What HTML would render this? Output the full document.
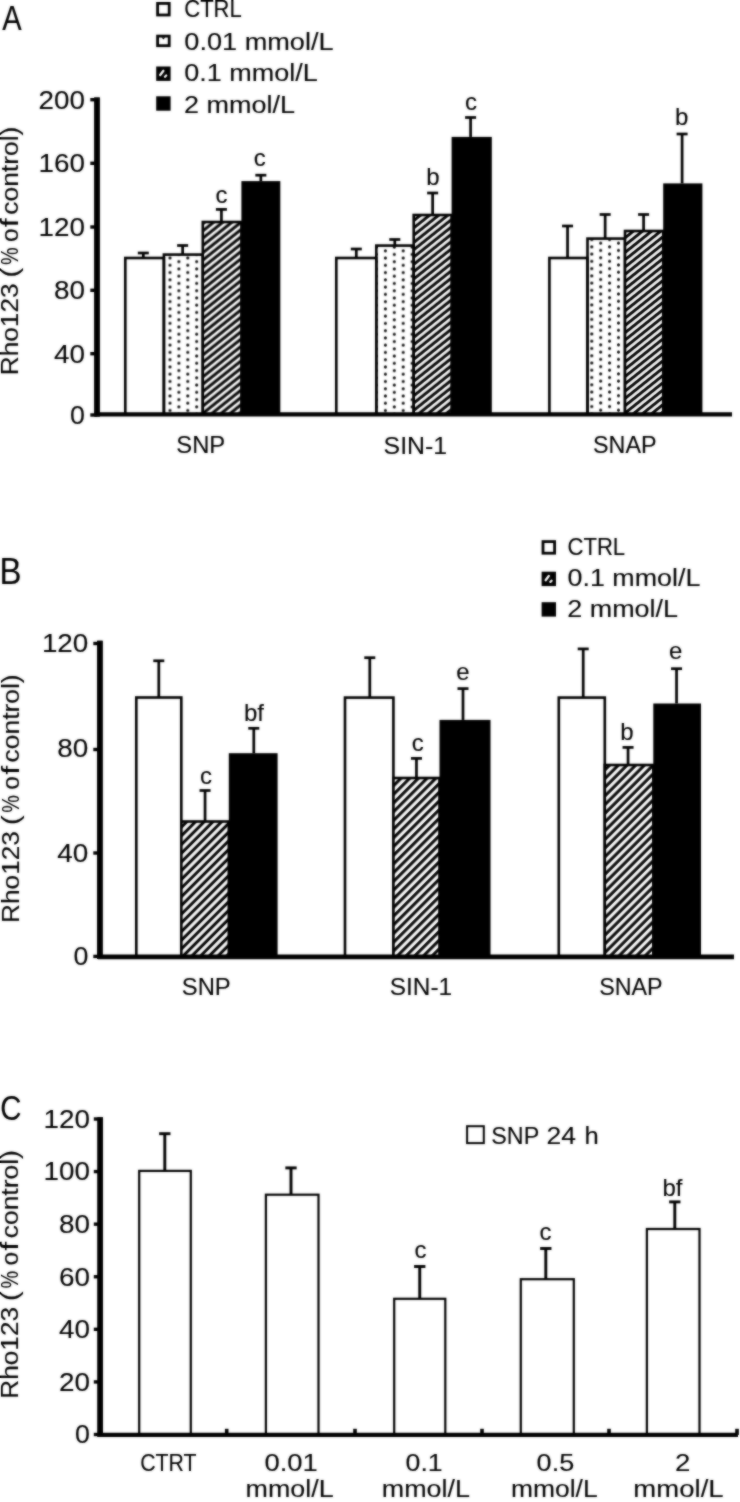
<!DOCTYPE html>
<html><head><meta charset="utf-8"><style>
html,body{margin:0;padding:0;background:#fff;}
svg{display:block;will-change:transform;}
#w{position:relative;width:740px;height:1502px;overflow:hidden;}
#b{position:absolute;left:0;top:0;width:740px;height:1502px;filter:blur(1px);opacity:0.6;}
text{font-family:"Liberation Sans", sans-serif;fill:#000;stroke:#000;stroke-width:0.1px;}
</style></head><body>
<div id="w"><svg width="740" height="1502" viewBox="0 0 740 1502">
<defs><pattern id="dots0" patternUnits="userSpaceOnUse" width="17.8" height="7.26" x="165.55" y="256.20"><circle cx="4.45" cy="1.8" r="1.5" fill="#000"/><circle cx="13.35" cy="5.43" r="1.5" fill="#000"/></pattern><pattern id="dots1" patternUnits="userSpaceOnUse" width="17.8" height="7.26" x="380.95" y="249.00"><circle cx="4.45" cy="1.8" r="1.5" fill="#000"/><circle cx="13.35" cy="5.43" r="1.5" fill="#000"/></pattern><pattern id="dots2" patternUnits="userSpaceOnUse" width="17.8" height="7.26" x="587.35" y="339.40"><circle cx="4.45" cy="1.8" r="1.5" fill="#000"/><circle cx="13.35" cy="5.43" r="1.5" fill="#000"/></pattern><pattern id="hatchA0" patternUnits="userSpaceOnUse" width="5.700" height="40" patternTransform="rotate(51.340)"><rect width="5.700" height="40" fill="#000"/><rect x="-5.038" width="2.736" height="40" fill="#fff"/><rect x="0.662" width="2.736" height="40" fill="#fff"/><rect x="6.363" width="2.736" height="40" fill="#fff"/></pattern><pattern id="hatchA1" patternUnits="userSpaceOnUse" width="5.700" height="40" patternTransform="rotate(51.340)"><rect width="5.700" height="40" fill="#000"/><rect x="-6.756" width="2.736" height="40" fill="#fff"/><rect x="-1.056" width="2.736" height="40" fill="#fff"/><rect x="4.645" width="2.736" height="40" fill="#fff"/></pattern><pattern id="hatchA2" patternUnits="userSpaceOnUse" width="5.700" height="40" patternTransform="rotate(51.340)"><rect width="5.700" height="40" fill="#000"/><rect x="-3.711" width="2.736" height="40" fill="#fff"/><rect x="1.990" width="2.736" height="40" fill="#fff"/><rect x="7.690" width="2.736" height="40" fill="#fff"/></pattern><pattern id="hatchB0" patternUnits="userSpaceOnUse" width="6.152" height="40" patternTransform="rotate(45.000)"><rect width="6.152" height="40" fill="#000"/><rect x="-5.104" width="3.137" height="40" fill="#fff"/><rect x="1.048" width="3.137" height="40" fill="#fff"/><rect x="7.199" width="3.137" height="40" fill="#fff"/></pattern><pattern id="hatchB1" patternUnits="userSpaceOnUse" width="6.152" height="40" patternTransform="rotate(45.000)"><rect width="6.152" height="40" fill="#000"/><rect x="-7.438" width="3.137" height="40" fill="#fff"/><rect x="-1.286" width="3.137" height="40" fill="#fff"/><rect x="4.866" width="3.137" height="40" fill="#fff"/></pattern><pattern id="hatchB2" patternUnits="userSpaceOnUse" width="6.152" height="40" patternTransform="rotate(45.000)"><rect width="6.152" height="40" fill="#000"/><rect x="-4.539" width="3.137" height="40" fill="#fff"/><rect x="1.613" width="3.137" height="40" fill="#fff"/><rect x="7.765" width="3.137" height="40" fill="#fff"/></pattern></defs>
<g id="all">
<rect width="740" height="1502" fill="#fff"/>
<text x="2.20" y="29.70" font-size="35.5" text-anchor="start" textLength="19.4" lengthAdjust="spacingAndGlyphs">A</text>
<rect x="157.60" y="3.40" width="11.60" height="11.60" fill="#fff" stroke="#000" stroke-width="2.8"/>
<text x="184.28" y="17.40" font-size="23.5" textLength="57.45" lengthAdjust="spacingAndGlyphs">CTRL</text>
<rect x="157.60" y="36.10" width="11.60" height="9.60" fill="#fff" stroke="#000" stroke-width="2.8"/>
<path d="M161.4 37.30 L163.4 39.60 L165.4 37.30 Z" fill="#000"/>
<text x="184.34" y="49.50" font-size="23.5" textLength="149.26" lengthAdjust="spacingAndGlyphs">0.01 mmol/L</text>
<rect x="157.60" y="67.90" width="11.60" height="11.60" fill="#000" stroke="#000" stroke-width="2.8"/>
<line x1="160.2" y1="75.00" x2="163.4" y2="70.80" stroke="#fff" stroke-width="2.3" stroke-linecap="round"/>
<line x1="165.0" y1="76.70" x2="166.2" y2="75.50" stroke="#fff" stroke-width="2.3" stroke-linecap="round"/>
<text x="184.35" y="80.90" font-size="23.5" textLength="133.45" lengthAdjust="spacingAndGlyphs">0.1 mmol/L</text>
<rect x="157.60" y="97.70" width="11.60" height="11.60" fill="#000" stroke="#000" stroke-width="2.8"/>
<text x="184.04" y="112.60" font-size="23.5" textLength="111.05" lengthAdjust="spacingAndGlyphs">2 mmol/L</text>
<line x1="97.00" y1="97.60" x2="97.00" y2="416.60" stroke="#000" stroke-width="5.5" stroke-linecap="butt"/>
<line x1="90.30" y1="415.00" x2="97.00" y2="415.00" stroke="#000" stroke-width="3.4" stroke-linecap="butt"/>
<text x="85.00" y="423.90" font-size="25.5" text-anchor="end" textLength="14.9" lengthAdjust="spacingAndGlyphs">0</text>
<line x1="90.30" y1="353.70" x2="97.00" y2="353.70" stroke="#000" stroke-width="3.4" stroke-linecap="butt"/>
<text x="85.00" y="362.60" font-size="25.5" text-anchor="end" textLength="31.0" lengthAdjust="spacingAndGlyphs">40</text>
<line x1="90.30" y1="290.30" x2="97.00" y2="290.30" stroke="#000" stroke-width="3.4" stroke-linecap="butt"/>
<text x="85.00" y="299.20" font-size="25.5" text-anchor="end" textLength="31.0" lengthAdjust="spacingAndGlyphs">80</text>
<line x1="90.30" y1="227.00" x2="97.00" y2="227.00" stroke="#000" stroke-width="3.4" stroke-linecap="butt"/>
<text x="85.00" y="235.90" font-size="25.5" text-anchor="end" textLength="46.4" lengthAdjust="spacingAndGlyphs">120</text>
<line x1="90.30" y1="163.30" x2="97.00" y2="163.30" stroke="#000" stroke-width="3.4" stroke-linecap="butt"/>
<text x="85.00" y="172.20" font-size="25.5" text-anchor="end" textLength="46.4" lengthAdjust="spacingAndGlyphs">160</text>
<line x1="90.30" y1="99.70" x2="97.00" y2="99.70" stroke="#000" stroke-width="3.4" stroke-linecap="butt"/>
<text x="85.00" y="108.60" font-size="25.5" text-anchor="end" textLength="46.4" lengthAdjust="spacingAndGlyphs">200</text>
<text x="-2.15" y="0" font-size="23.5" textLength="91.80" lengthAdjust="spacingAndGlyphs" transform="translate(18.3,373.1) rotate(-90)">Rho123</text>
<text x="95.70" y="0" font-size="23.5" textLength="9.67" lengthAdjust="spacingAndGlyphs" transform="translate(18.3,373.1) rotate(-90)">(</text>
<text x="108.09" y="0" font-size="23.5" textLength="17.61" lengthAdjust="spacingAndGlyphs" transform="translate(18.3,373.1) rotate(-90)">%</text>
<text x="131.07" y="0" font-size="23.5" textLength="13.66" lengthAdjust="spacingAndGlyphs" transform="translate(18.3,373.1) rotate(-90)">o</text>
<text x="145.94" y="0" font-size="23.5" textLength="9.01" lengthAdjust="spacingAndGlyphs" transform="translate(18.3,373.1) rotate(-90)">f</text>
<text x="158.38" y="0" font-size="23.5" textLength="88.06" lengthAdjust="spacingAndGlyphs" transform="translate(18.3,373.1) rotate(-90)">control)</text>
<line x1="143.30" y1="253.00" x2="143.30" y2="258.00" stroke="#000" stroke-width="2.7" stroke-linecap="butt"/>
<line x1="137.80" y1="253.00" x2="148.80" y2="253.00" stroke="#000" stroke-width="2.7" stroke-linecap="butt"/>
<line x1="182.65" y1="245.50" x2="182.65" y2="254.60" stroke="#000" stroke-width="2.7" stroke-linecap="butt"/>
<line x1="177.15" y1="245.50" x2="188.15" y2="245.50" stroke="#000" stroke-width="2.7" stroke-linecap="butt"/>
<line x1="221.40" y1="209.40" x2="221.40" y2="222.00" stroke="#000" stroke-width="2.7" stroke-linecap="butt"/>
<line x1="215.90" y1="209.40" x2="226.90" y2="209.40" stroke="#000" stroke-width="2.7" stroke-linecap="butt"/>
<line x1="260.85" y1="175.20" x2="260.85" y2="181.10" stroke="#000" stroke-width="2.7" stroke-linecap="butt"/>
<line x1="255.35" y1="175.20" x2="266.35" y2="175.20" stroke="#000" stroke-width="2.7" stroke-linecap="butt"/>
<rect x="125.30" y="258.00" width="38.60" height="156.60" fill="#fff" stroke="#000" stroke-width="2.6"/>
<rect x="163.90" y="254.60" width="38.90" height="160.00" fill="url(#dots0)" stroke="#000" stroke-width="2.6"/>
<rect x="202.80" y="222.00" width="38.60" height="192.60" fill="url(#hatchA0)" stroke="#000" stroke-width="2.6"/>
<rect x="241.40" y="181.10" width="38.90" height="233.50" fill="#000"/>
<line x1="356.30" y1="249.00" x2="356.30" y2="258.00" stroke="#000" stroke-width="2.7" stroke-linecap="butt"/>
<line x1="350.80" y1="249.00" x2="361.80" y2="249.00" stroke="#000" stroke-width="2.7" stroke-linecap="butt"/>
<line x1="394.80" y1="239.50" x2="394.80" y2="245.60" stroke="#000" stroke-width="2.7" stroke-linecap="butt"/>
<line x1="389.30" y1="239.50" x2="400.30" y2="239.50" stroke="#000" stroke-width="2.7" stroke-linecap="butt"/>
<line x1="432.65" y1="193.00" x2="432.65" y2="215.00" stroke="#000" stroke-width="2.7" stroke-linecap="butt"/>
<line x1="427.15" y1="193.00" x2="438.15" y2="193.00" stroke="#000" stroke-width="2.7" stroke-linecap="butt"/>
<line x1="470.60" y1="117.50" x2="470.60" y2="136.90" stroke="#000" stroke-width="2.7" stroke-linecap="butt"/>
<line x1="465.10" y1="117.50" x2="476.10" y2="117.50" stroke="#000" stroke-width="2.7" stroke-linecap="butt"/>
<rect x="336.30" y="258.00" width="40.00" height="156.60" fill="#fff" stroke="#000" stroke-width="2.6"/>
<rect x="376.30" y="245.60" width="37.40" height="169.00" fill="url(#dots1)" stroke="#000" stroke-width="2.6"/>
<rect x="413.70" y="215.00" width="37.90" height="199.60" fill="url(#hatchA1)" stroke="#000" stroke-width="2.6"/>
<rect x="451.60" y="136.90" width="40.20" height="277.70" fill="#000"/>
<line x1="567.55" y1="226.00" x2="567.55" y2="258.00" stroke="#000" stroke-width="2.7" stroke-linecap="butt"/>
<line x1="562.05" y1="226.00" x2="573.05" y2="226.00" stroke="#000" stroke-width="2.7" stroke-linecap="butt"/>
<line x1="605.15" y1="214.50" x2="605.15" y2="238.60" stroke="#000" stroke-width="2.7" stroke-linecap="butt"/>
<line x1="599.65" y1="214.50" x2="610.65" y2="214.50" stroke="#000" stroke-width="2.7" stroke-linecap="butt"/>
<line x1="643.60" y1="214.50" x2="643.60" y2="231.00" stroke="#000" stroke-width="2.7" stroke-linecap="butt"/>
<line x1="638.10" y1="214.50" x2="649.10" y2="214.50" stroke="#000" stroke-width="2.7" stroke-linecap="butt"/>
<line x1="682.10" y1="134.00" x2="682.10" y2="183.40" stroke="#000" stroke-width="2.7" stroke-linecap="butt"/>
<line x1="676.60" y1="134.00" x2="687.60" y2="134.00" stroke="#000" stroke-width="2.7" stroke-linecap="butt"/>
<rect x="549.40" y="258.00" width="38.10" height="156.60" fill="#fff" stroke="#000" stroke-width="2.6"/>
<rect x="587.50" y="238.60" width="37.50" height="176.00" fill="url(#dots2)" stroke="#000" stroke-width="2.6"/>
<rect x="625.00" y="231.00" width="38.20" height="183.60" fill="url(#hatchA2)" stroke="#000" stroke-width="2.6"/>
<rect x="663.20" y="183.40" width="39.20" height="231.20" fill="#000"/>
<line x1="95.00" y1="414.40" x2="732.00" y2="414.40" stroke="#000" stroke-width="4.4" stroke-linecap="butt"/>
<line x1="97.00" y1="97.60" x2="97.00" y2="416.60" stroke="#000" stroke-width="5.5" stroke-linecap="butt"/>
<text x="221.50" y="202.50" font-size="24" text-anchor="middle">c</text>
<text x="259.70" y="166.20" font-size="24" text-anchor="middle">c</text>
<text x="432.90" y="184.50" font-size="24" text-anchor="middle">b</text>
<text x="471.00" y="109.50" font-size="24" text-anchor="middle">c</text>
<text x="681.80" y="124.50" font-size="24" text-anchor="middle">b</text>
<text x="176.32" y="453.10" font-size="23.5" textLength="48.94" lengthAdjust="spacingAndGlyphs">SNP</text>
<text x="383.57" y="453.50" font-size="23.5" textLength="63.54" lengthAdjust="spacingAndGlyphs">SIN-1</text>
<text x="593.04" y="453.10" font-size="23.5" textLength="63.49" lengthAdjust="spacingAndGlyphs">SNAP</text>
<text x="-0.40" y="584.20" font-size="36" text-anchor="start" textLength="22.0" lengthAdjust="spacingAndGlyphs">B</text>
<rect x="543.00" y="541.60" width="11.60" height="11.60" fill="#fff" stroke="#000" stroke-width="2.8"/>
<text x="567.48" y="555.00" font-size="23.5" textLength="57.65" lengthAdjust="spacingAndGlyphs">CTRL</text>
<rect x="543.00" y="573.10" width="11.60" height="11.60" fill="#000" stroke="#000" stroke-width="2.8"/>
<line x1="545.6" y1="580.20" x2="548.8" y2="576.00" stroke="#fff" stroke-width="2.3" stroke-linecap="round"/>
<line x1="550.4" y1="581.90" x2="551.6" y2="580.70" stroke="#fff" stroke-width="2.3" stroke-linecap="round"/>
<text x="567.55" y="586.30" font-size="23.5" textLength="132.84" lengthAdjust="spacingAndGlyphs">0.1 mmol/L</text>
<rect x="543.00" y="603.60" width="11.60" height="11.60" fill="#000" stroke="#000" stroke-width="2.8"/>
<text x="567.25" y="616.80" font-size="23.5" textLength="110.75" lengthAdjust="spacingAndGlyphs">2 mmol/L</text>
<line x1="99.90" y1="640.80" x2="99.90" y2="959.00" stroke="#000" stroke-width="5.5" stroke-linecap="butt"/>
<line x1="93.30" y1="956.40" x2="99.90" y2="956.40" stroke="#000" stroke-width="3.4" stroke-linecap="butt"/>
<text x="88.30" y="965.30" font-size="25.5" text-anchor="end" textLength="14.9" lengthAdjust="spacingAndGlyphs">0</text>
<line x1="93.30" y1="853.00" x2="99.90" y2="853.00" stroke="#000" stroke-width="3.4" stroke-linecap="butt"/>
<text x="88.30" y="861.90" font-size="25.5" text-anchor="end" textLength="31.0" lengthAdjust="spacingAndGlyphs">40</text>
<line x1="93.30" y1="749.50" x2="99.90" y2="749.50" stroke="#000" stroke-width="3.4" stroke-linecap="butt"/>
<text x="88.30" y="756.60" font-size="25.5" text-anchor="end" textLength="31.0" lengthAdjust="spacingAndGlyphs">80</text>
<line x1="93.30" y1="643.50" x2="99.90" y2="643.50" stroke="#000" stroke-width="3.4" stroke-linecap="butt"/>
<text x="88.30" y="652.40" font-size="25.5" text-anchor="end" textLength="46.4" lengthAdjust="spacingAndGlyphs">120</text>
<text x="-2.15" y="0" font-size="23.5" textLength="91.80" lengthAdjust="spacingAndGlyphs" transform="translate(19.0,920.8) rotate(-90)">Rho123</text>
<text x="95.70" y="0" font-size="23.5" textLength="9.67" lengthAdjust="spacingAndGlyphs" transform="translate(19.0,920.8) rotate(-90)">(</text>
<text x="108.09" y="0" font-size="23.5" textLength="17.61" lengthAdjust="spacingAndGlyphs" transform="translate(19.0,920.8) rotate(-90)">%</text>
<text x="131.07" y="0" font-size="23.5" textLength="13.66" lengthAdjust="spacingAndGlyphs" transform="translate(19.0,920.8) rotate(-90)">o</text>
<text x="145.94" y="0" font-size="23.5" textLength="9.01" lengthAdjust="spacingAndGlyphs" transform="translate(19.0,920.8) rotate(-90)">f</text>
<text x="158.38" y="0" font-size="23.5" textLength="88.06" lengthAdjust="spacingAndGlyphs" transform="translate(19.0,920.8) rotate(-90)">control)</text>
<line x1="158.80" y1="660.80" x2="158.80" y2="697.50" stroke="#000" stroke-width="2.7" stroke-linecap="butt"/>
<line x1="153.30" y1="660.80" x2="164.30" y2="660.80" stroke="#000" stroke-width="2.7" stroke-linecap="butt"/>
<line x1="205.05" y1="790.50" x2="205.05" y2="821.50" stroke="#000" stroke-width="2.7" stroke-linecap="butt"/>
<line x1="199.55" y1="790.50" x2="210.55" y2="790.50" stroke="#000" stroke-width="2.7" stroke-linecap="butt"/>
<line x1="253.80" y1="728.30" x2="253.80" y2="753.20" stroke="#000" stroke-width="2.7" stroke-linecap="butt"/>
<line x1="248.30" y1="728.30" x2="259.30" y2="728.30" stroke="#000" stroke-width="2.7" stroke-linecap="butt"/>
<rect x="136.30" y="697.50" width="45.00" height="259.30" fill="#fff" stroke="#000" stroke-width="2.6"/>
<rect x="181.30" y="821.50" width="47.50" height="135.30" fill="url(#hatchB0)" stroke="#000" stroke-width="2.6"/>
<rect x="228.80" y="753.20" width="48.80" height="203.60" fill="#000"/>
<line x1="369.80" y1="657.70" x2="369.80" y2="697.60" stroke="#000" stroke-width="2.7" stroke-linecap="butt"/>
<line x1="364.30" y1="657.70" x2="375.30" y2="657.70" stroke="#000" stroke-width="2.7" stroke-linecap="butt"/>
<line x1="416.45" y1="758.40" x2="416.45" y2="778.00" stroke="#000" stroke-width="2.7" stroke-linecap="butt"/>
<line x1="410.95" y1="758.40" x2="421.95" y2="758.40" stroke="#000" stroke-width="2.7" stroke-linecap="butt"/>
<line x1="463.00" y1="688.60" x2="463.00" y2="719.90" stroke="#000" stroke-width="2.7" stroke-linecap="butt"/>
<line x1="457.50" y1="688.60" x2="468.50" y2="688.60" stroke="#000" stroke-width="2.7" stroke-linecap="butt"/>
<rect x="345.00" y="697.60" width="48.40" height="259.20" fill="#fff" stroke="#000" stroke-width="2.6"/>
<rect x="393.40" y="778.00" width="46.10" height="178.80" fill="url(#hatchB1)" stroke="#000" stroke-width="2.6"/>
<rect x="439.50" y="719.90" width="51.00" height="236.90" fill="#000"/>
<line x1="583.20" y1="648.90" x2="583.20" y2="697.60" stroke="#000" stroke-width="2.7" stroke-linecap="butt"/>
<line x1="577.70" y1="648.90" x2="588.70" y2="648.90" stroke="#000" stroke-width="2.7" stroke-linecap="butt"/>
<line x1="628.05" y1="747.40" x2="628.05" y2="765.00" stroke="#000" stroke-width="2.7" stroke-linecap="butt"/>
<line x1="622.55" y1="747.40" x2="633.55" y2="747.40" stroke="#000" stroke-width="2.7" stroke-linecap="butt"/>
<line x1="676.55" y1="668.70" x2="676.55" y2="703.50" stroke="#000" stroke-width="2.7" stroke-linecap="butt"/>
<line x1="671.05" y1="668.70" x2="682.05" y2="668.70" stroke="#000" stroke-width="2.7" stroke-linecap="butt"/>
<rect x="558.80" y="697.60" width="46.00" height="259.20" fill="#fff" stroke="#000" stroke-width="2.6"/>
<rect x="604.80" y="765.00" width="48.50" height="191.80" fill="url(#hatchB2)" stroke="#000" stroke-width="2.6"/>
<rect x="653.30" y="703.50" width="47.70" height="253.30" fill="#000"/>
<line x1="97.90" y1="956.90" x2="734.00" y2="956.90" stroke="#000" stroke-width="4.6" stroke-linecap="butt"/>
<line x1="99.90" y1="640.80" x2="99.90" y2="959.00" stroke="#000" stroke-width="5.5" stroke-linecap="butt"/>
<text x="206.10" y="783.50" font-size="24" text-anchor="middle">c</text>
<text x="253.90" y="720.60" font-size="24" text-anchor="middle">bf</text>
<text x="417.70" y="751.00" font-size="24" text-anchor="middle">c</text>
<text x="463.00" y="680.30" font-size="24" text-anchor="middle">e</text>
<text x="627.00" y="740.00" font-size="24" text-anchor="middle">b</text>
<text x="675.60" y="659.00" font-size="24" text-anchor="middle">e</text>
<text x="181.82" y="994.80" font-size="23.5" textLength="48.94" lengthAdjust="spacingAndGlyphs">SNP</text>
<text x="389.69" y="994.80" font-size="23.5" textLength="62.40" lengthAdjust="spacingAndGlyphs">SIN-1</text>
<text x="599.14" y="994.80" font-size="23.5" textLength="63.49" lengthAdjust="spacingAndGlyphs">SNAP</text>
<text x="0.30" y="1119.60" font-size="35.5" text-anchor="start" textLength="21.2" lengthAdjust="spacingAndGlyphs">C</text>
<rect x="467.10" y="1126.20" width="16.70" height="16.90" fill="#fff" stroke="#000" stroke-width="2.0"/>
<text x="491.34" y="1143.80" font-size="23.5" textLength="47.89" lengthAdjust="spacingAndGlyphs">SNP</text>
<text x="546.47" y="1143.80" font-size="23.5" textLength="29.51" lengthAdjust="spacingAndGlyphs">24</text>
<text x="584.52" y="1143.80" font-size="23.5" textLength="14.24" lengthAdjust="spacingAndGlyphs">h</text>
<line x1="100.20" y1="1117.30" x2="100.20" y2="1437.00" stroke="#000" stroke-width="5.5" stroke-linecap="butt"/>
<line x1="93.80" y1="1434.50" x2="100.20" y2="1434.50" stroke="#000" stroke-width="3.4" stroke-linecap="butt"/>
<text x="90.00" y="1443.40" font-size="25.5" text-anchor="end" textLength="14.9" lengthAdjust="spacingAndGlyphs">0</text>
<line x1="93.80" y1="1381.92" x2="100.20" y2="1381.92" stroke="#000" stroke-width="3.4" stroke-linecap="butt"/>
<text x="90.00" y="1390.82" font-size="25.5" text-anchor="end" textLength="31.0" lengthAdjust="spacingAndGlyphs">20</text>
<line x1="93.80" y1="1329.33" x2="100.20" y2="1329.33" stroke="#000" stroke-width="3.4" stroke-linecap="butt"/>
<text x="90.00" y="1338.23" font-size="25.5" text-anchor="end" textLength="31.0" lengthAdjust="spacingAndGlyphs">40</text>
<line x1="93.80" y1="1276.75" x2="100.20" y2="1276.75" stroke="#000" stroke-width="3.4" stroke-linecap="butt"/>
<text x="90.00" y="1285.65" font-size="25.5" text-anchor="end" textLength="31.0" lengthAdjust="spacingAndGlyphs">60</text>
<line x1="93.80" y1="1224.16" x2="100.20" y2="1224.16" stroke="#000" stroke-width="3.4" stroke-linecap="butt"/>
<text x="90.00" y="1233.06" font-size="25.5" text-anchor="end" textLength="31.0" lengthAdjust="spacingAndGlyphs">80</text>
<line x1="93.80" y1="1171.58" x2="100.20" y2="1171.58" stroke="#000" stroke-width="3.4" stroke-linecap="butt"/>
<text x="90.00" y="1180.48" font-size="25.5" text-anchor="end" textLength="46.4" lengthAdjust="spacingAndGlyphs">100</text>
<line x1="93.80" y1="1119.00" x2="100.20" y2="1119.00" stroke="#000" stroke-width="3.4" stroke-linecap="butt"/>
<text x="90.00" y="1127.90" font-size="25.5" text-anchor="end" textLength="46.4" lengthAdjust="spacingAndGlyphs">120</text>
<text x="-2.15" y="0" font-size="23.5" textLength="91.80" lengthAdjust="spacingAndGlyphs" transform="translate(18.4,1396.6) rotate(-90)">Rho123</text>
<text x="95.70" y="0" font-size="23.5" textLength="9.67" lengthAdjust="spacingAndGlyphs" transform="translate(18.4,1396.6) rotate(-90)">(</text>
<text x="108.09" y="0" font-size="23.5" textLength="17.61" lengthAdjust="spacingAndGlyphs" transform="translate(18.4,1396.6) rotate(-90)">%</text>
<text x="131.07" y="0" font-size="23.5" textLength="13.66" lengthAdjust="spacingAndGlyphs" transform="translate(18.4,1396.6) rotate(-90)">o</text>
<text x="145.94" y="0" font-size="23.5" textLength="9.01" lengthAdjust="spacingAndGlyphs" transform="translate(18.4,1396.6) rotate(-90)">f</text>
<text x="158.38" y="0" font-size="23.5" textLength="88.06" lengthAdjust="spacingAndGlyphs" transform="translate(18.4,1396.6) rotate(-90)">control)</text>
<line x1="164.80" y1="1133.70" x2="164.80" y2="1170.90" stroke="#000" stroke-width="2.9" stroke-linecap="butt"/>
<line x1="159.15" y1="1133.70" x2="170.45" y2="1133.70" stroke="#000" stroke-width="2.9" stroke-linecap="butt"/>
<rect x="139.20" y="1170.90" width="51.60" height="264.00" fill="#fff" stroke="#000" stroke-width="2.2"/>
<line x1="291.00" y1="1167.90" x2="291.00" y2="1194.70" stroke="#000" stroke-width="2.9" stroke-linecap="butt"/>
<line x1="285.35" y1="1167.90" x2="296.65" y2="1167.90" stroke="#000" stroke-width="2.9" stroke-linecap="butt"/>
<rect x="265.90" y="1194.70" width="52.60" height="240.20" fill="#fff" stroke="#000" stroke-width="2.2"/>
<line x1="419.75" y1="1266.50" x2="419.75" y2="1298.80" stroke="#000" stroke-width="2.9" stroke-linecap="butt"/>
<line x1="414.10" y1="1266.50" x2="425.40" y2="1266.50" stroke="#000" stroke-width="2.9" stroke-linecap="butt"/>
<rect x="394.20" y="1298.80" width="51.10" height="136.10" fill="#fff" stroke="#000" stroke-width="2.2"/>
<line x1="545.80" y1="1248.50" x2="545.80" y2="1279.20" stroke="#000" stroke-width="2.9" stroke-linecap="butt"/>
<line x1="540.15" y1="1248.50" x2="551.45" y2="1248.50" stroke="#000" stroke-width="2.9" stroke-linecap="butt"/>
<rect x="520.80" y="1279.20" width="53.00" height="155.70" fill="#fff" stroke="#000" stroke-width="2.2"/>
<line x1="674.80" y1="1201.90" x2="674.80" y2="1229.00" stroke="#000" stroke-width="2.9" stroke-linecap="butt"/>
<line x1="669.15" y1="1201.90" x2="680.45" y2="1201.90" stroke="#000" stroke-width="2.9" stroke-linecap="butt"/>
<rect x="646.90" y="1229.00" width="52.60" height="205.90" fill="#fff" stroke="#000" stroke-width="2.2"/>
<line x1="98.20" y1="1434.90" x2="738.00" y2="1434.90" stroke="#000" stroke-width="4.4" stroke-linecap="butt"/>
<line x1="100.20" y1="1117.30" x2="100.20" y2="1437.00" stroke="#000" stroke-width="5.5" stroke-linecap="butt"/>
<line x1="226.70" y1="1428.80" x2="226.70" y2="1434.90" stroke="#000" stroke-width="3.6" stroke-linecap="butt"/>
<line x1="355.00" y1="1428.80" x2="355.00" y2="1434.90" stroke="#000" stroke-width="3.6" stroke-linecap="butt"/>
<line x1="482.00" y1="1428.80" x2="482.00" y2="1434.90" stroke="#000" stroke-width="3.6" stroke-linecap="butt"/>
<line x1="609.00" y1="1428.80" x2="609.00" y2="1434.90" stroke="#000" stroke-width="3.6" stroke-linecap="butt"/>
<line x1="737.00" y1="1428.80" x2="737.00" y2="1434.90" stroke="#000" stroke-width="3.6" stroke-linecap="butt"/>
<text x="420.50" y="1257.80" font-size="24" text-anchor="middle">c</text>
<text x="545.40" y="1240.00" font-size="24" text-anchor="middle">c</text>
<text x="672.40" y="1195.60" font-size="24" text-anchor="middle">bf</text>
<text x="140.23" y="1470.60" font-size="24.5" textLength="56.26" lengthAdjust="spacingAndGlyphs">CTRT</text>
<text x="264.43" y="1470.80" font-size="23.5" textLength="53.41" lengthAdjust="spacingAndGlyphs">0.01</text>
<text x="405.56" y="1470.80" font-size="23.5" textLength="37.15" lengthAdjust="spacingAndGlyphs">0.1</text>
<text x="536.64" y="1470.80" font-size="23.5" textLength="37.59" lengthAdjust="spacingAndGlyphs">0.5</text>
<text x="675.01" y="1470.80" font-size="23.5" textLength="15.38" lengthAdjust="spacingAndGlyphs">2</text>
<text x="245.52" y="1497.20" font-size="23.5" textLength="88.08" lengthAdjust="spacingAndGlyphs">mmol/L</text>
<text x="381.81" y="1497.20" font-size="23.5" textLength="88.18" lengthAdjust="spacingAndGlyphs">mmol/L</text>
<text x="510.94" y="1497.20" font-size="23.5" textLength="86.74" lengthAdjust="spacingAndGlyphs">mmol/L</text>
<text x="633.37" y="1497.20" font-size="23.5" textLength="90.24" lengthAdjust="spacingAndGlyphs">mmol/L</text>
</g>
</svg><div id="b"><svg width="740" height="1502" viewBox="0 0 740 1502"><use href="#all"/></svg></div></div>
</body></html>
